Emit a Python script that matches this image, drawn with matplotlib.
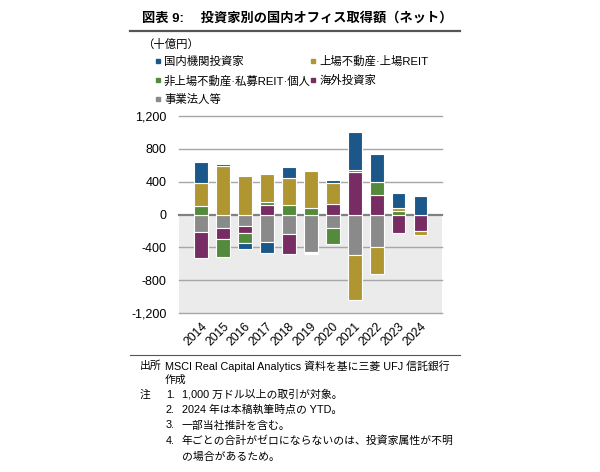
import numpy as np
import matplotlib
matplotlib.use("Agg")
import matplotlib.pyplot as plt
from matplotlib.lines import Line2D

plt.rcParams['font.family'] = ['Liberation Sans', 'Noto Sans CJK JP', 'DejaVu Sans']

years = ['2014', '2015', '2016', '2017', '2018', '2019', '2020', '2021', '2022', '2023', '2024']
domestic = [260, 25, -75, -140, 135, -20, 40, 465, 330, 190, 230]      # 国内機関投資家
listed = [275, 590, 470, 345, 330, 445, 255, -550, -320, 30, -45]      # 上場不動産・上場REIT
nonlisted = [105, -220, -120, 35, 110, 78, -190, 15, 165, 45, 0]      # 非上場不動産・私募REIT・個人
foreign = [-310, -130, -95, 115, -245, -15, 130, 520, 235, -225, -200]  # 海外投資家
corporate = [-215, -170, -135, -330, -240, -450, -170, -490, -400, 0, 0]  # 事業法人等

names = ['国内機関投資家', '上場不動産·上場REIT', '非上場不動産·私募REIT·個人', '海外投資家', '事業法人等']
colors = ['#1b5889', '#b09630', '#548a3c', '#772d63', '#8a8a8a']
yticks = [-1200, -800, -400, 0, 400, 800, 1200]

fig = plt.figure(figsize=(6.0, 4.72), dpi=100)
ax = fig.add_axes([179/600, 1-313.3/472, (442-179)/600, (313.3-115.7)/472])

x = np.arange(len(years))
series = [domestic, listed, nonlisted, foreign, corporate]
stack_order = [4, 3, 2, 1, 0]
pos = np.zeros(len(years))
neg = np.zeros(len(years))
for i in stack_order:
    v = np.array(series[i], dtype=float)
    bottom = np.where(v >= 0, pos, neg)
    ax.bar(x, v, width=0.62, bottom=bottom, color=colors[i], edgecolor='white',
           linewidth=0.8, zorder=3)
    pos = pos + np.where(v >= 0, v, 0)
    neg = neg + np.where(v < 0, v, 0)

ax.set_xlim(-0.99, 10.97)
ax.set_ylim(-1200, 1200)
ax.axhspan(-1200, 0, color='#ebebeb', zorder=0, lw=0)
for t in yticks:
    if t == 0:
        ax.axhline(t, color='#808080', lw=1.6, zorder=2, clip_on=False)
    else:
        ax.axhline(t, color='#a6a6a6', lw=1.0, zorder=1, clip_on=False)

for s in ax.spines.values():
    s.set_visible(False)
ax.set_yticks(yticks)
ax.set_yticklabels([f'{t:,}' for t in yticks], fontsize=9)
ax.tick_params(axis='y', length=0, pad=9)
ax.set_xticks(x)
ax.set_xticklabels(years, rotation=45, ha='right', rotation_mode='anchor', fontsize=8.7)
ax.tick_params(axis='x', length=0, pad=5)

# legend
handles = [Line2D([], [], marker='s', ms=3.5, ls='none', color=c) for c in colors]
order = [0, 2, 4, 1, 3]
fig.legend([handles[i] for i in order], [names[i] for i in order],
           ncol=2, loc='upper left', bbox_to_anchor=(152/600, 1-56/472),
           frameon=False, fontsize=8.2, handletextpad=0.05, columnspacing=-0.3,
           labelspacing=0.68, handlelength=1.0, borderaxespad=0, borderpad=0)

fig.text(142/600, 1-44/472, '（十億円）', fontsize=8.2, va='center', ha='left')

# title and rules
fig.text(142/600, 1-18.5/472, '図表 9:　 投資家別の国内オフィス取得額（ネット）', fontsize=9.5,
         fontweight='bold', va='center', ha='left')
fig.add_artist(Line2D([130/600, 460/600], [1-30.5/472, 1-30.5/472], color='#555555', lw=1.6))
fig.add_artist(Line2D([130/600, 460/600], [1-354.5/472, 1-354.5/472], color='#555555', lw=0.8))

fs = 7.8
fig.text(140/600, 1-366/472, '出所', fontsize=fs, va='center')
fig.text(165/600, 1-366/472, 'MSCI Real Capital Analytics 資料を基に三菱 UFJ 信託銀行', fontsize=fs, va='center')
fig.text(165/600, 1-380/472, '作成', fontsize=fs, va='center')
fig.text(140/600, 1-394.5/472, '注', fontsize=fs, va='center')
notes = ['1,000 万ドル以上の取引が対象。', '2024 年は本稿執筆時点の YTD。', '一部当社推計を含む。',
         '年ごとの合計がゼロにならないのは、投資家属性が不明']
ys = [394.5, 410, 425.5, 441]
for k, (n, yy) in enumerate(zip(notes, ys)):
    fig.text(166/600, 1-yy/472, f'{k+1}.', fontsize=fs, va='center')
    fig.text(182/600, 1-yy/472, n, fontsize=fs, va='center')
fig.text(182/600, 1-456.5/472, 'の場合があるため。', fontsize=fs, va='center')

fig.savefig('out.png', dpi=100, facecolor='white')
